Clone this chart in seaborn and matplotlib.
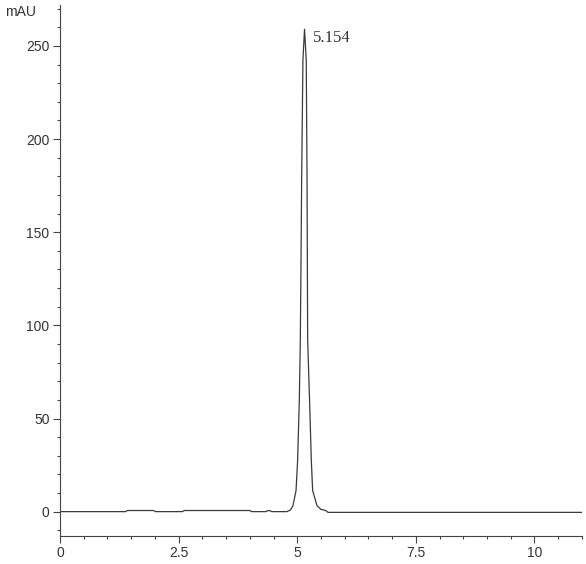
import pandas as pd
import matplotlib.pyplot as plt
import seaborn as sns
from matplotlib.ticker import MultipleLocator

# chromatogram trace (retention time in min, signal in mAU)
time = [0.0, 0.5, 1.0, 1.38, 1.42, 1.97, 2.01, 2.58, 2.62, 4.0, 4.04,
        4.34, 4.37, 4.43, 4.46, 4.78, 4.855, 4.91, 4.975, 5.008, 5.044,
        5.065, 5.08, 5.093, 5.12, 5.154, 5.19, 5.207, 5.213, 5.22, 5.26,
        5.297, 5.325, 5.417, 5.5, 5.6, 5.65, 7.0, 9.0, 11.0]
mau = [0.0, 0.0, 0.0, 0.0, 0.6, 0.6, 0.0, 0.0, 0.6, 0.6, 0.0,
       0.0, 0.5, 0.5, 0.0, 0.0, 0.8, 3.2, 11.3, 27.4, 59.7,
       92.0, 135.0, 178.0, 242.5, 259.0, 242.5, 178.0, 135.0, 92.0, 59.7,
       27.4, 11.3, 3.2, 1.2, 0.6, -0.4, -0.4, -0.4, -0.4]
peak_time = 5.154
peak_height = 259.0

xticks = [0, 2.5, 5, 7.5, 10]
xtick_labels = ["0", "2.5", "5", "7.5", "10"]
yticks = [0, 50, 100, 150, 200, 250]

df = pd.DataFrame({"time": time, "mAU": mau})

sns.set_style("ticks")
plt.rcParams["font.family"] = ["Liberation Sans", "DejaVu Sans"]

fig = plt.figure(figsize=(5.86, 5.64), dpi=100)
ax = fig.add_axes([0.1024, 0.0496, 0.8906, 0.9415])

sns.lineplot(data=df, x="time", y="mAU", ax=ax, color="#3a3a3a",
             linewidth=0.9, estimator=None, sort=False)

ax.set_xlim(0, 11)
ax.set_ylim(-13.1, 272)
ax.set_xticks(xticks)
ax.set_xticklabels(xtick_labels)
ax.set_yticks(yticks)
ax.xaxis.set_minor_locator(MultipleLocator(0.5))
ax.yaxis.set_minor_locator(MultipleLocator(10))
ax.tick_params(which="major", length=5, width=0.8, color="#444444",
               labelsize=10, labelcolor="#333333", pad=2.5)
ax.tick_params(which="minor", length=2.5, width=0.8, color="#444444")
ax.set_xlabel("")
ax.set_ylabel("")
sns.despine(ax=ax)
for s in ["left", "bottom"]:
    ax.spines[s].set_color("#444444")
    ax.spines[s].set_linewidth(0.8)

fig.text(0.009, 0.978, "mAU", fontsize=10, color="#333333", va="center")

ax.annotate(f"{peak_time:.3f}", xy=(peak_time, peak_height),
            xytext=(6, -6), textcoords="offset points", va="center",
            ha="left", fontsize=12, color="#333333",
            family="Liberation Serif")

fig.savefig("out.png", dpi=100)
